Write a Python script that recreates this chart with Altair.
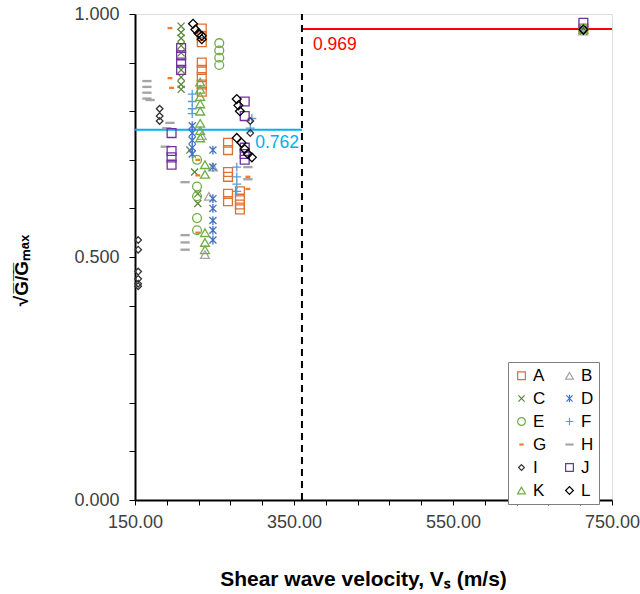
import altair as alt
import pandas as pd

# ---------------- data ----------------
SERIES = ["A", "B", "C", "D", "E", "F", "G", "H", "I", "J", "K", "L"]

A_vs = [234, 234, 234, 234, 234, 234, 234, 234, 267, 267, 267, 267, 267, 267, 282, 282, 282, 282, 714]
A_g = [0.970, 0.955, 0.942, 0.900, 0.885, 0.870, 0.855, 0.840, 0.735, 0.720, 0.675, 0.665, 0.630, 0.615, 0.635, 0.620, 0.608, 0.598, 0.970]

B_vs = [234, 248, 243, 238, 714]
B_g = [0.750, 0.685, 0.625, 0.505, 0.965]

C_vs = [208, 208, 208, 208, 208, 208, 208, 208, 208, 219, 225, 229, 229, 714]
C_g = [0.975, 0.962, 0.950, 0.935, 0.920, 0.885, 0.870, 0.855, 0.845, 0.720, 0.675, 0.630, 0.610, 0.965]

D_vs = [222, 222, 222, 222, 222, 248, 248, 248, 248, 248, 248, 248, 714]
D_g = [0.770, 0.755, 0.740, 0.725, 0.712, 0.720, 0.685, 0.620, 0.600, 0.575, 0.555, 0.535, 0.970]

E_vs = [256, 256, 256, 256, 228, 228, 228, 228, 228, 714]
E_g = [0.940, 0.925, 0.910, 0.895, 0.700, 0.645, 0.625, 0.580, 0.555, 0.970]

F_vs = [222, 222, 222, 222, 297, 295, 278, 278, 278, 278, 714]
F_g = [0.835, 0.820, 0.805, 0.795, 0.785, 0.765, 0.685, 0.665, 0.650, 0.635, 0.970]

G_vs = [194, 194, 196, 229, 229, 229, 292, 292, 714]
G_g = [0.971, 0.868, 0.848, 0.700, 0.668, 0.550, 0.665, 0.640, 0.970]

H_vs = [165, 165, 165, 165, 169, 194, 190, 188, 213, 213, 213, 213, 292, 292, 714]
H_g = [0.862, 0.850, 0.838, 0.826, 0.823, 0.776, 0.765, 0.727, 0.654, 0.545, 0.530, 0.515, 0.685, 0.660, 0.965]

I_vs = [154, 154, 154, 154, 154, 154, 181, 181, 181, 295, 295, 714]
I_g = [0.535, 0.515, 0.470, 0.455, 0.445, 0.440, 0.805, 0.790, 0.780, 0.780, 0.755, 0.965]

J_vs = [208, 208, 208, 208, 196, 196, 196, 196, 288, 288, 288, 288, 288, 714]
J_g = [0.930, 0.915, 0.900, 0.885, 0.755, 0.718, 0.705, 0.690, 0.820, 0.790, 0.725, 0.712, 0.700, 0.982]

K_vs = [232, 232, 232, 232, 232, 232, 232, 232, 238, 238, 238, 238, 238, 714]
K_g = [0.860, 0.845, 0.830, 0.815, 0.800, 0.775, 0.760, 0.745, 0.690, 0.670, 0.550, 0.530, 0.515, 0.968]

L_vs = [223, 226, 230, 234, 234, 278, 280, 282, 278, 284, 288, 292, 297, 714]
L_g = [0.980, 0.968, 0.960, 0.955, 0.948, 0.825, 0.812, 0.800, 0.745, 0.735, 0.722, 0.712, 0.705, 0.968]

VS_ALL = [A_vs, B_vs, C_vs, D_vs, E_vs, F_vs, G_vs, H_vs, I_vs, J_vs, K_vs, L_vs]
G_ALL = [A_g, B_g, C_g, D_g, E_g, F_g, G_g, H_g, I_g, J_g, K_g, L_g]

COLORS = ["#E07030", "#A5A5A5", "#5A8A3A", "#4472C4", "#70AD47", "#5B9BD5",
          "#ED7D31", "#A5A5A5", "#333333", "#7030A0", "#70AD47", "#000000"]
SHAPES = [
    "square",
    "triangle-up",
    "M-0.8,-0.8L0.8,0.8M-0.8,0.8L0.8,-0.8",
    "M-0.8,-0.8L0.8,0.8M-0.8,0.8L0.8,-0.8M0,-1L0,1",
    "circle",
    "M-1,0L1,0M0,-1L0,1",
    "M-0.4,-0.12L0.4,-0.12L0.4,0.12L-0.4,0.12Z",
    "M-0.9,-0.12L0.9,-0.12L0.9,0.12L-0.9,0.12Z",
    "M0,-0.75L0.75,0L0,0.75L-0.75,0Z",
    "square",
    "triangle-up",
    "diamond",
]

# reference values
VS_SPLIT = [360]
MEAN_LOW = [0.762]
MEAN_HIGH = [0.969]
X_MIN, X_MAX = 150, 750

rows = []
for s, xs, ys in zip(SERIES, VS_ALL, G_ALL):
    for x, y in zip(xs, ys):
        rows.append({"series": s, "vs": x, "g": y})
df = pd.DataFrame(rows)

# legend is laid out column-first, so order the domain to read A B / C D / ...
order_idx = list(range(0, 12, 2)) + list(range(1, 12, 2))
DOMAIN = [SERIES[i] for i in order_idx]
COLOR_RANGE = [COLORS[i] for i in order_idx]
SHAPE_RANGE = [SHAPES[i] for i in order_idx]

xscale = alt.Scale(domain=[X_MIN, X_MAX], nice=False, zero=False)
yscale = alt.Scale(domain=[0, 1], nice=False)

x_ticks = list(range(150, 751, 40))
y_ticks = [round(i * 0.1, 1) for i in range(11)]

x_axis = alt.Axis(
    values=x_ticks,
    labelExpr="(datum.value - 150) % 200 == 0 ? format(datum.value, '.2f') : ''",
    labelOverlap=False, labelBound=False, labelFlush=False,
    title="Shear wave velocity, Vₛ (m/s)",
    titleFont="Liberation Sans", titleFontSize=21, titleFontWeight="bold", titleColor="black",
    titleX=228, titleY=79, titleAlign="center", titleBaseline="middle",
    labelFont="Liberation Sans", labelFontSize=18, labelColor="#404040", labelPadding=8,
    domainColor="black", domainWidth=2, tickColor="black", tickSize=5, tickWidth=1,
    grid=False,
)
y_axis = alt.Axis(
    values=y_ticks,
    labelExpr="abs(datum.value * 2 - round(datum.value * 2)) < 0.001 ? format(datum.value, '.3f') : ''",
    labelOverlap=False, labelBound=False, labelFlush=False,
    title="√G̅/̅G̅ₘₐₓ",
    titleFont="Liberation Sans", titleFontSize=19, titleFontWeight="bold", titleColor="black",
    titleAngle=270, titleX=-114, titleY=256, titleAlign="center", titleBaseline="middle",
    labelFont="Liberation Sans", labelFontSize=18, labelColor="#404040", labelPadding=10,
    domainColor="black", domainWidth=2, tickColor="black", tickSize=6, tickWidth=1,
    grid=False,
)

points = alt.Chart(df).mark_point(filled=False, strokeWidth=1.3, size=78, opacity=1).encode(
    x=alt.X("vs:Q", scale=xscale, axis=x_axis),
    y=alt.Y("g:Q", scale=yscale, axis=y_axis),
    color=alt.Color("series:N", scale=alt.Scale(domain=DOMAIN, range=COLOR_RANGE),
                    legend=alt.Legend(
                        orient="none", legendX=373, legendY=348, columns=2, title=None,
                        labelFont="Liberation Sans", labelFontSize=17, labelColor="black",
                        strokeColor="#7f7f7f", fillColor="white", padding=5,
                        symbolSize=60, symbolStrokeWidth=1.2, columnPadding=14,
                        rowPadding=5, labelOffset=3)),
    shape=alt.Shape("series:N", scale=alt.Scale(domain=DOMAIN, range=SHAPE_RANGE)),
)

split_df = pd.DataFrame({"vs": VS_SPLIT, "lo": [0], "hi": [1]})
vline = alt.Chart(split_df).mark_rule(color="black", strokeWidth=2, strokeDash=[7, 5]).encode(
    x=alt.X("vs:Q", scale=xscale, axis=x_axis),
    y=alt.Y("lo:Q", scale=yscale, axis=y_axis), y2="hi:Q")

low_df = pd.DataFrame({"x1": [X_MIN], "x2": VS_SPLIT, "y": MEAN_LOW,
                       "label": [f"{v:.3f}" for v in MEAN_LOW]})
high_df = pd.DataFrame({"x1": VS_SPLIT, "x2": [X_MAX], "y": MEAN_HIGH,
                        "label": [f"{v:.3f}" for v in MEAN_HIGH]})

low_line = alt.Chart(low_df).mark_rule(color="#00B0F0", strokeWidth=2).encode(
    x=alt.X("x1:Q", scale=xscale, axis=x_axis), x2="x2:Q",
    y=alt.Y("y:Q", scale=yscale, axis=y_axis))
high_line = alt.Chart(high_df).mark_rule(color="#FF0000", strokeWidth=2).encode(
    x=alt.X("x1:Q", scale=xscale, axis=x_axis), x2="x2:Q",
    y=alt.Y("y:Q", scale=yscale, axis=y_axis))

low_text = alt.Chart(low_df).mark_text(
    color="#00B0F0", font="Liberation Sans", fontSize=17.5, align="right",
    baseline="middle", dx=-3, dy=13).encode(
    x=alt.X("x2:Q", scale=xscale, axis=x_axis),
    y=alt.Y("y:Q", scale=yscale, axis=y_axis), text="label:N")
high_text = alt.Chart(high_df).mark_text(
    color="#FF0000", font="Liberation Sans", fontSize=17.5, align="left",
    baseline="middle", dx=11, dy=16).encode(
    x=alt.X("x1:Q", scale=xscale, axis=x_axis),
    y=alt.Y("y:Q", scale=yscale, axis=y_axis), text="label:N")

chart = alt.layer(low_line, high_line, vline, points, low_text, high_text).properties(
    width=477, height=486,
    autosize=alt.AutoSizeParams(type="none"),
    padding={"left": 135, "top": 14, "right": 28, "bottom": 94},
).configure_view(stroke="black", strokeWidth=2).configure_axis(
    labelOverlap=False
).configure(background="white")

chart.save("out.html", embed_options={"renderer": "svg", "actions": False})
